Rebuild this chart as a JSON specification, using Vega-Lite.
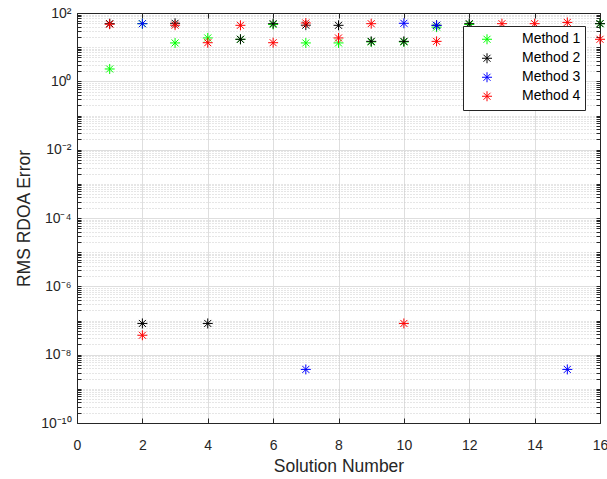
{
  "$schema": "https://vega.github.io/schema/vega-lite/v6.json",
  "width": 523,
  "height": 410,
  "autosize": {"type": "none"},
  "padding": {"left": 77, "top": 13, "right": 7, "bottom": 56},
  "background": "white",
  "config": {
    "view": {"stroke": "#262626", "strokeWidth": 1},
    "font": "Liberation Sans"
  },
  "data": {
    "values": [
      {"method": "Method 1", "solution": 1, "error": 2.3},
      {"method": "Method 1", "solution": 2, "error": 48.7},
      {"method": "Method 1", "solution": 3, "error": 13.3},
      {"method": "Method 1", "solution": 4, "error": 18.6},
      {"method": "Method 1", "solution": 5, "error": 17},
      {"method": "Method 1", "solution": 6, "error": 46},
      {"method": "Method 1", "solution": 7, "error": 13.3},
      {"method": "Method 1", "solution": 8, "error": 13.3},
      {"method": "Method 1", "solution": 9, "error": 14.2},
      {"method": "Method 1", "solution": 10, "error": 14.2},
      {"method": "Method 1", "solution": 11, "error": 38.6},
      {"method": "Method 1", "solution": 12, "error": 46},
      {"method": "Method 1", "solution": 13, "error": 14},
      {"method": "Method 1", "solution": 14, "error": 14},
      {"method": "Method 1", "solution": 15, "error": 14},
      {"method": "Method 1", "solution": 16, "error": 48.7},
      {"method": "Method 2", "solution": 1, "error": 48.7},
      {"method": "Method 2", "solution": 2, "error": 8.2e-8},
      {"method": "Method 2", "solution": 3, "error": 50},
      {"method": "Method 2", "solution": 4, "error": 8.2e-8},
      {"method": "Method 2", "solution": 5, "error": 17},
      {"method": "Method 2", "solution": 6, "error": 48.7},
      {"method": "Method 2", "solution": 7, "error": 44},
      {"method": "Method 2", "solution": 8, "error": 43.6},
      {"method": "Method 2", "solution": 9, "error": 14.8},
      {"method": "Method 2", "solution": 10, "error": 14.8},
      {"method": "Method 2", "solution": 11, "error": 43.6},
      {"method": "Method 2", "solution": 12, "error": 48.7},
      {"method": "Method 2", "solution": 13, "error": 14},
      {"method": "Method 2", "solution": 14, "error": 14},
      {"method": "Method 2", "solution": 15, "error": 14},
      {"method": "Method 2", "solution": 16, "error": 48.7},
      {"method": "Method 3", "solution": 2, "error": 48.7},
      {"method": "Method 3", "solution": 7, "error": 3.7e-9},
      {"method": "Method 3", "solution": 10, "error": 50},
      {"method": "Method 3", "solution": 11, "error": 43.6},
      {"method": "Method 3", "solution": 15, "error": 3.7e-9},
      {"method": "Method 4", "solution": 1, "error": 47},
      {"method": "Method 4", "solution": 2, "error": 3.7e-8},
      {"method": "Method 4", "solution": 3, "error": 44},
      {"method": "Method 4", "solution": 4, "error": 13.5},
      {"method": "Method 4", "solution": 5, "error": 43.6},
      {"method": "Method 4", "solution": 6, "error": 13.5},
      {"method": "Method 4", "solution": 7, "error": 51},
      {"method": "Method 4", "solution": 8, "error": 18.6},
      {"method": "Method 4", "solution": 9, "error": 48.7},
      {"method": "Method 4", "solution": 10, "error": 8.2e-8},
      {"method": "Method 4", "solution": 11, "error": 14.8},
      {"method": "Method 4", "solution": 12, "error": 14.8},
      {"method": "Method 4", "solution": 13, "error": 48.7},
      {"method": "Method 4", "solution": 14, "error": 48.7},
      {"method": "Method 4", "solution": 15, "error": 53},
      {"method": "Method 4", "solution": 16, "error": 17}
    ]
  },
  "resolve": {"axis": {"x": "independent", "y": "independent"}},
  "layer": [
    {
      "mark": {
        "type": "point",
        "shape": "M-1,0H1M0,-1V1M-0.7,-0.7L0.7,0.7M-0.7,0.7L0.7,-0.7",
        "filled": false,
        "size": 100,
        "strokeWidth": 1,
        "opacity": 1
      },
      "encoding": {
        "x": {
          "field": "solution",
          "type": "quantitative",
          "scale": {"domain": [0, 16], "nice": false, "zero": false},
          "axis": {
            "orient": "bottom",
            "values": [0, 2, 4, 6, 8, 10, 12, 14, 16],
            "title": "Solution Number",
            "titleFontSize": 17.5,
            "titleFontWeight": "normal",
            "titleColor": "#262626",
            "titleFont": "Liberation Sans",
            "titleBaseline": "alphabetic",
            "titleY": 48,
            "labelFontSize": 14,
            "labelFont": "Liberation Sans",
            "labelColor": "#262626",
            "labelPadding": 20,
            "labelFlush": false,
            "tickSize": -5,
            "tickColor": "#262626",
            "domainColor": "#262626",
            "gridColor": "#dedede",
            "grid": true
          }
        },
        "y": {
          "field": "error",
          "type": "quantitative",
          "scale": {"type": "log", "domain": [1e-10, 100], "nice": false},
          "axis": {
            "orient": "left",
            "values": [1e-10, 2e-10, 3e-10, 4e-10, 5e-10, 6e-10, 7e-10, 8e-10, 9e-10,
              1e-9, 2e-9, 3e-9, 4e-9, 5e-9, 6e-9, 7e-9, 8e-9, 9e-9,
              1e-8, 2e-8, 3e-8, 4e-8, 5e-8, 6e-8, 7e-8, 8e-8, 9e-8,
              1e-7, 2e-7, 3e-7, 4e-7, 5e-7, 6e-7, 7e-7, 8e-7, 9e-7,
              1e-6, 2e-6, 3e-6, 4e-6, 5e-6, 6e-6, 7e-6, 8e-6, 9e-6,
              1e-5, 2e-5, 3e-5, 4e-5, 5e-5, 6e-5, 7e-5, 8e-5, 9e-5,
              1e-4, 2e-4, 3e-4, 4e-4, 5e-4, 6e-4, 7e-4, 8e-4, 9e-4,
              1e-3, 2e-3, 3e-3, 4e-3, 5e-3, 6e-3, 7e-3, 8e-3, 9e-3,
              1e-2, 2e-2, 3e-2, 4e-2, 5e-2, 6e-2, 7e-2, 8e-2, 9e-2,
              0.1, 0.2, 0.3, 0.4, 0.5, 0.6, 0.7, 0.8, 0.9,
              1, 2, 3, 4, 5, 6, 7, 8, 9,
              10, 20, 30, 40, 50, 60, 70, 80, 90, 100],
            "labelExpr": "datum.value == 100 ? '10²' : datum.value == 1 ? '10⁰' : datum.value == 0.01 ? '10⁻²' : datum.value == 0.0001 ? '10⁻⁴' : datum.value == 0.000001 ? '10⁻⁶' : datum.value == 0.00000001 ? '10⁻⁸' : datum.value == 0.0000000001 ? '10⁻¹⁰' : ''",
            "labelFontSize": 14,
            "labelFont": "Liberation Sans",
            "labelColor": "#262626",
            "labelPadding": 10,
            "labelOverlap": false,
            "labelFlush": false,
            "title": "RMS RDOA Error",
            "titleFontSize": 17.5,
            "titleFontWeight": "normal",
            "titleColor": "#262626",
            "titleFont": "Liberation Sans",
            "titleBaseline": "middle",
            "titleX": -53,
            "titleY": 205,
            "tickSize": -4,
            "tickColor": "#262626",
            "domainColor": "#262626",
            "grid": true,
            "gridColor": {
              "condition": {"test": "datum.value == 100 || datum.value == 1 || datum.value == 0.01 || datum.value == 0.0001 || datum.value == 0.000001 || datum.value == 0.00000001 || datum.value == 0.0000000001", "value": "#dedede"},
              "value": "#cdcdcd"
            },
            "gridDash": {
              "condition": {"test": "datum.value == 100 || datum.value == 1 || datum.value == 0.01 || datum.value == 0.0001 || datum.value == 0.000001 || datum.value == 0.00000001 || datum.value == 0.0000000001", "value": []},
              "value": [1, 2]
            }
          }
        },
        "color": {
          "field": "method",
          "type": "nominal",
          "scale": {
            "domain": ["Method 1", "Method 2", "Method 3", "Method 4"],
            "range": ["#00ff00", "#000000", "#0000ff", "#ff0000"]
          },
          "legend": {
            "title": null,
            "orient": "none",
            "legendX": 386,
            "legendY": 13,
            "fillColor": "white",
            "strokeColor": "#262626",
            "padding": 4,
            "symbolType": "M-1,0H1M0,-1V1M-0.7,-0.7L0.7,0.7M-0.7,0.7L0.7,-0.7",
            "symbolSize": 100,
            "symbolStrokeWidth": 1,
            "symbolOffset": 13,
            "labelOffset": 28,
            "labelFontSize": 14,
            "labelFont": "Liberation Sans",
            "labelColor": "#000000",
            "clipHeight": 18.5,
            "rowPadding": 0
          }
        }
      }
    },
    {
      "mark": {"type": "point", "opacity": 0},
      "encoding": {
        "x": {
          "field": "solution",
          "type": "quantitative",
          "axis": {
            "orient": "top",
            "values": [0, 2, 4, 6, 8, 10, 12, 14, 16],
            "labels": false,
            "title": null,
            "grid": false,
            "tickSize": -5,
            "tickColor": "#262626",
            "domainColor": "#262626"
          }
        },
        "y": {
          "field": "error",
          "type": "quantitative",
          "axis": {
            "orient": "right",
            "values": [1e-10, 2e-10, 3e-10, 4e-10, 5e-10, 6e-10, 7e-10, 8e-10, 9e-10,
              1e-9, 2e-9, 3e-9, 4e-9, 5e-9, 6e-9, 7e-9, 8e-9, 9e-9,
              1e-8, 2e-8, 3e-8, 4e-8, 5e-8, 6e-8, 7e-8, 8e-8, 9e-8,
              1e-7, 2e-7, 3e-7, 4e-7, 5e-7, 6e-7, 7e-7, 8e-7, 9e-7,
              1e-6, 2e-6, 3e-6, 4e-6, 5e-6, 6e-6, 7e-6, 8e-6, 9e-6,
              1e-5, 2e-5, 3e-5, 4e-5, 5e-5, 6e-5, 7e-5, 8e-5, 9e-5,
              1e-4, 2e-4, 3e-4, 4e-4, 5e-4, 6e-4, 7e-4, 8e-4, 9e-4,
              1e-3, 2e-3, 3e-3, 4e-3, 5e-3, 6e-3, 7e-3, 8e-3, 9e-3,
              1e-2, 2e-2, 3e-2, 4e-2, 5e-2, 6e-2, 7e-2, 8e-2, 9e-2,
              0.1, 0.2, 0.3, 0.4, 0.5, 0.6, 0.7, 0.8, 0.9,
              1, 2, 3, 4, 5, 6, 7, 8, 9,
              10, 20, 30, 40, 50, 60, 70, 80, 90, 100],
            "labels": false,
            "title": null,
            "grid": false,
            "tickSize": -4,
            "tickColor": "#262626",
            "domainColor": "#262626"
          }
        }
      }
    }
  ]
}
